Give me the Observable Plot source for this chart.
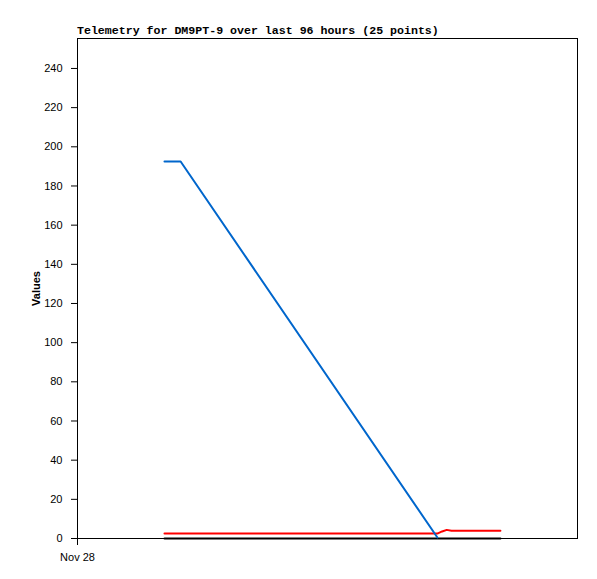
<!DOCTYPE html>
<html><head><meta charset="utf-8">
<script src="https://cdn.jsdelivr.net/npm/d3@7"></script>
<script src="https://cdn.jsdelivr.net/npm/@observablehq/plot@0.6"></script>
<style>
body{margin:0;background:#fff;}
#wrap{position:relative;width:597px;height:579px;}
#title{position:absolute;left:77px;top:24px;font:bold 11.6px "Liberation Mono","DejaVu Sans Mono",monospace;color:#000;white-space:nowrap;z-index:2;}
</style></head>
<body><div id="wrap"><div id="title">Telemetry for DM9PT-9 over last 96 hours (25 points)</div></div>
<script>
const titleText = "Telemetry for DM9PT-9 over last 96 hours (25 points)";
const yTicks = [0,20,40,60,80,100,120,140,160,180,200,220,240];
const xTickLabels = ["Nov 28"];
// hours since Nov 28 00:00
const blueHours = [16.7, 19.8, 69.1];
const blueValues = [192.5, 192.5, 0.5];
const redHours = [16.7, 69.1, 70.0, 70.9, 71.8, 81.2];
const redValues = [2.5, 2.5, 3.6, 4.4, 4.0, 4.0];
const blackHours = [16.7, 81.2];
const blackValues = [0, 0];

const t0 = Date.UTC(2024, 10, 28);
const toDate = h => new Date(t0 + h * 3600e3);
const mk = (hs, vs) => hs.map((h, i) => ({t: toDate(h), v: vs[i]}));
const blue = mk(blueHours, blueValues);
const red = mk(redHours, redValues);
const black = mk(blackHours, blackValues);

const chart = Plot.plot({
  width: 597, height: 579,
  marginTop: 38, marginLeft: 77, marginRight: 20, marginBottom: 41,
  style: {fontFamily: "'Liberation Sans', Arial, sans-serif", fontSize: "11px", background: "#fff", color: "#000"},
  x: {type: "utc", domain: [toDate(0), toDate(96)]},
  y: {domain: [0, 255.3]},
  marks: [
    Plot.frame({stroke: "#000", strokeWidth: 1}),
    Plot.axisY({ticks: yTicks, tickSize: 6, tickPadding: 9, label: "Values", labelAnchor: "center", labelArrow: "none", labelOffset: 45, tickFormat: d => String(d)}),
    Plot.axisX({ticks: [toDate(0)], tickSize: 7, tickPadding: 8, tickFormat: () => xTickLabels[0], label: null}),
    Plot.line(black, {x: "t", y: "v", stroke: "#000", strokeWidth: 2}),
    Plot.line(red, {x: "t", y: "v", stroke: "#ff0000", strokeWidth: 2}),
    Plot.line(blue, {x: "t", y: "v", stroke: "#0066cc", strokeWidth: 2})
  ]
});
document.getElementById("wrap").prepend(chart);
d3.select(chart).selectAll("[aria-label='y-axis label'] text").style("font-weight", "bold").style("font-size", "11px");
d3.select(chart).style("position", "absolute").style("left", "0").style("top", "0");
</script>
</body></html>
